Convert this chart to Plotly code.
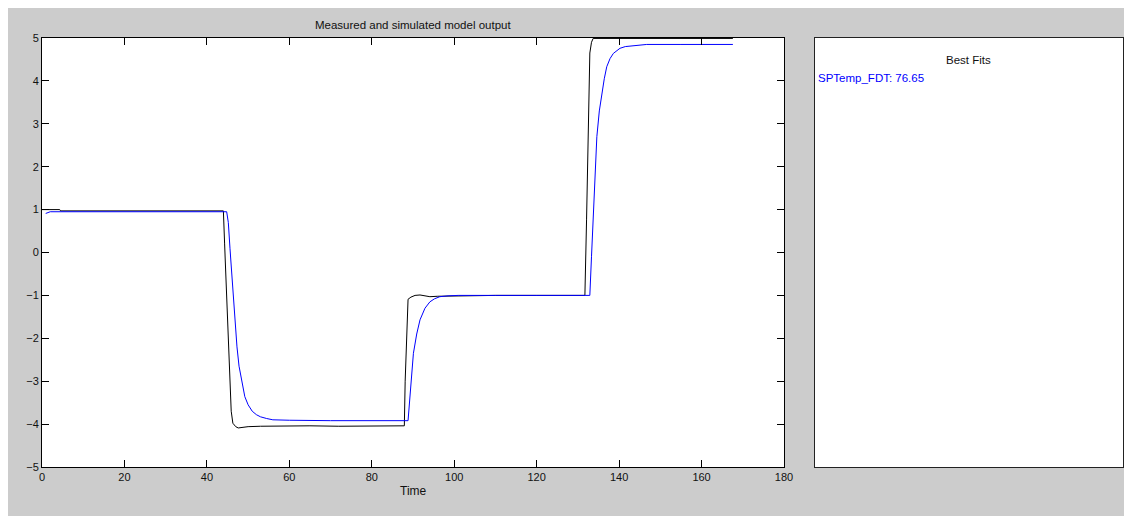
import plotly.graph_objects as go

# Measured output (black)
t_meas = [0, 4.3, 4.5, 44.0, 44.3, 44.7, 45.1, 45.5, 45.9, 46.3, 47.0, 47.6, 48.5, 50, 53, 58, 65,
          72, 80, 87.9, 88.1, 88.5, 88.8, 89.5, 90.5, 91.7, 93, 94.1, 96, 100, 110, 120, 131.7,
          132.1, 132.5, 132.9, 133.3, 133.7, 140, 150, 167.6]
y_meas = [1.0, 1.0, 0.97, 0.97, 0.2, -0.9, -2.0, -3.0, -3.7, -3.98, -4.06, -4.09, -4.08, -4.06,
          -4.05, -4.04, -4.04, -4.05, -4.04, -4.04, -3.0, -1.6, -1.09, -1.04, -1.0, -0.99, -1.01,
          -1.03, -1.02, -1.01, -1.0, -1.0, -1.0, 0.76, 3.09, 4.65, 4.9, 4.99, 4.99, 4.99, 4.99]

# Simulated model output (blue)
t_sim = [0.9, 2, 44.8, 45.2, 45.6, 46.0, 46.4, 46.8, 47.3, 47.8, 48.5, 49.2, 50, 51, 52, 53, 54.5,
         56, 60, 70, 88.8, 89.4, 90.1, 90.9, 91.7, 92.9, 94.1, 95.2, 96.5, 98.5, 101, 110, 120,
         132.9, 133.3, 133.7, 134.2, 134.6, 135.2, 135.8, 136.4, 137, 137.8, 138.6, 139.4, 140.2,
         141.5, 143.4, 146.7, 155, 167.6]
y_sim = [0.91, 0.95, 0.95, 0.7, 0.1, -0.5, -1.1, -1.64, -2.2, -2.65, -3.05, -3.36, -3.55, -3.7,
         -3.78, -3.83, -3.87, -3.9, -3.91, -3.92, -3.92, -3.1, -2.35, -1.9, -1.57, -1.3, -1.15,
         -1.08, -1.03, -1.01, -1.0, -1.0, -1.0, -1.0, -0.1, 0.76, 1.9, 2.7, 3.3, 3.71, 4.05, 4.33,
         4.52, 4.64, 4.71, 4.76, 4.80, 4.82, 4.85, 4.85, 4.85]

x_ticks = [0, 20, 40, 60, 80, 100, 120, 140, 160, 180]
y_ticks = [-5, -4, -3, -2, -1, 0, 1, 2, 3, 4, 5]

title_text = "Measured and simulated model output"
xlabel_text = "Time"
fits_title = "Best Fits"
fit_label = "SPTemp_FDT: 76.65"

# page has an 8px body margin; figure sized so the page fits the window exactly
OFF = 8
W, H = 1132 - OFF, 524 - 2 * OFF
FONT = "Liberation Sans, Arial, sans-serif"


def px(x):
    return (x - OFF) / W


def py(y):
    return 1 - (y - OFF) / H


fig = go.Figure()
fig.add_trace(go.Scatter(x=t_meas, y=y_meas, mode="lines",
                         line=dict(color="black", width=1), showlegend=False,
                         hoverinfo="skip", xaxis="x", yaxis="y"))
fig.add_trace(go.Scatter(x=t_sim, y=y_sim, mode="lines",
                         line=dict(color="#0000FF", width=1), showlegend=False,
                         hoverinfo="skip", xaxis="x", yaxis="y"))
# empty trace so the "Best Fits" panel axes get drawn
fig.add_trace(go.Scatter(x=[None], y=[None], mode="lines", showlegend=False,
                         hoverinfo="skip", xaxis="x2", yaxis="y2"))

ydom = [py(467), py(38)]
axis_common = dict(showline=True, linecolor="black", linewidth=1, mirror="ticks",
                   ticks="inside", ticklen=7, tickcolor="black", showgrid=False,
                   zeroline=False, automargin=False,
                   tickfont=dict(family=FONT, size=11, color="#111111"))
panel_axis = dict(range=[0, 1], showline=True, linecolor="#222222", linewidth=1, mirror=True,
                  showticklabels=False, ticks="", showgrid=False, zeroline=False,
                  automargin=False)

fig.update_layout(
    width=W, height=H, autosize=False,
    margin=dict(l=0, r=0, t=0, b=0, pad=0, autoexpand=False),
    paper_bgcolor="#CCCCCC", plot_bgcolor="white",
    xaxis=dict(domain=[px(42), px(784)], range=[0, 180], tickvals=x_ticks,
               anchor="y", **axis_common),
    yaxis=dict(domain=ydom, range=[-5, 5], tickvals=y_ticks, anchor="x", **axis_common),
    xaxis2=dict(domain=[px(815), px(1123)], anchor="y2", **panel_axis),
    yaxis2=dict(domain=ydom, anchor="x2", **panel_axis),
    annotations=[
        dict(text=title_text, x=px((42 + 784) / 2), y=py(25), xref="paper", yref="paper",
             showarrow=False, xanchor="center", yanchor="middle",
             font=dict(family=FONT, size=11.5, color="#111111")),
        dict(text=xlabel_text, x=px((42 + 784) / 2), y=py(491), xref="paper", yref="paper",
             showarrow=False, xanchor="center", yanchor="middle",
             font=dict(family=FONT, size=12, color="#111111")),
        dict(text=fits_title, x=px(968), y=py(60), xref="paper", yref="paper",
             showarrow=False, xanchor="center", yanchor="middle",
             font=dict(family=FONT, size=11.5, color="#111111")),
        dict(text=fit_label, x=px(816), y=py(78), xref="paper", yref="paper",
             showarrow=False, xanchor="left", yanchor="middle",
             font=dict(family=FONT, size=11.5, color="#0000FF")),
    ],
)

fig.write_html("out.html")
